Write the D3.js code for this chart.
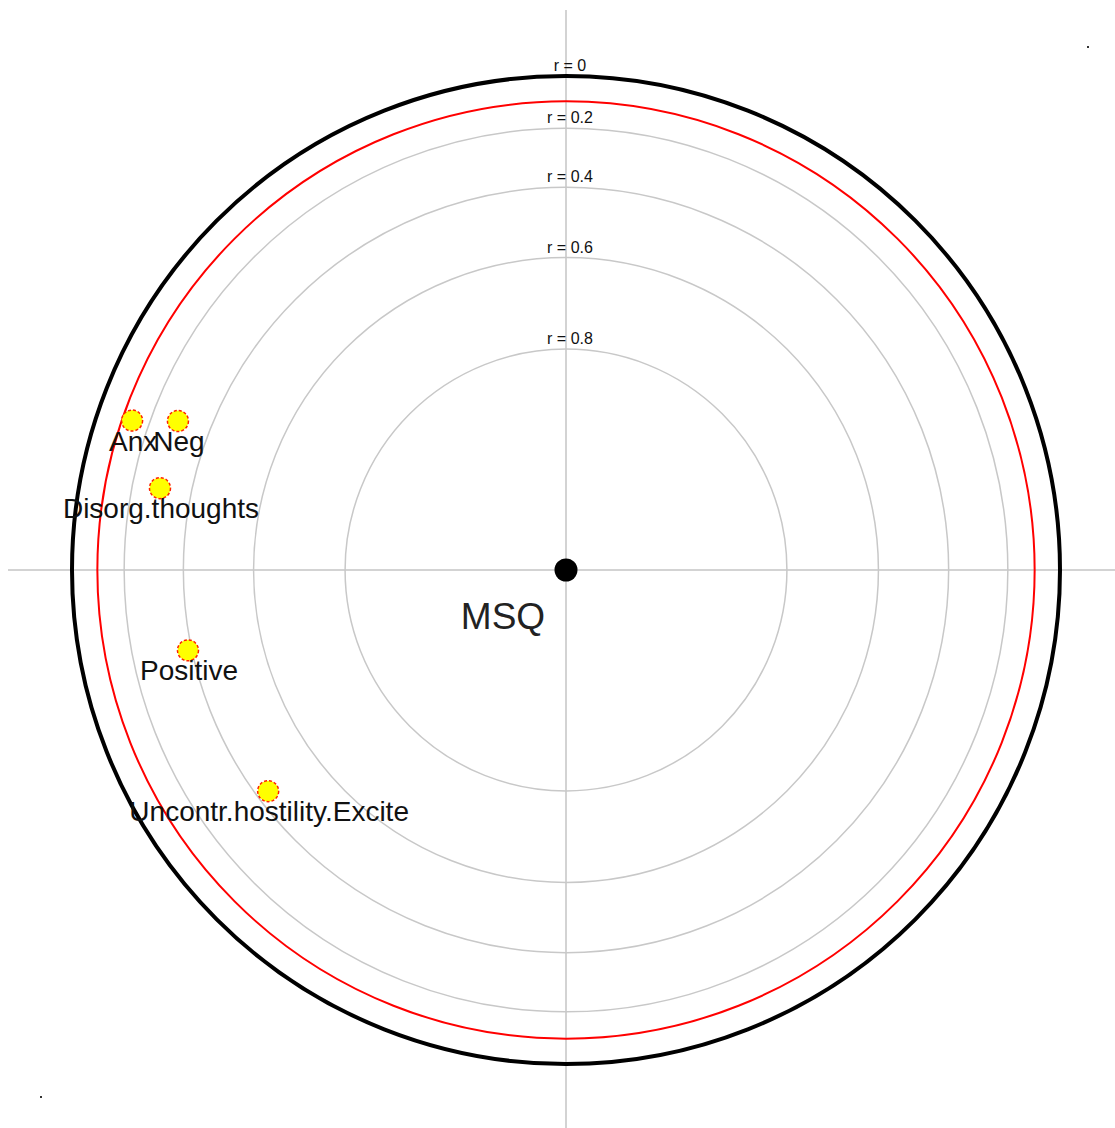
<!DOCTYPE html>
<html><head><meta charset="utf-8">
<script src="https://cdn.jsdelivr.net/npm/d3@7"></script>
<style>body{margin:0;background:#fff}svg{display:block}</style>
</head><body>
<script>
// data
const names = ["Anx", "Neg", "Disorg.thoughts", "Positive", "Uncontr.hostility.Excite"];
const corrs = [0.137, 0.292, 0.297, 0.388, 0.436];
const angles = [161.0, 159.0, 168.6, 192.0, 216.6]; // degrees, counter-clockwise from +x
const ringValues = [0.2, 0.4, 0.6, 0.8];
const ringLabels = ["r = 0.2", "r = 0.4", "r = 0.6", "r = 0.8"];
const outerLabel = "r = 0";
const critValue = 0.1;
const centerLabel = "MSQ";

const W = 1115, H = 1128, cx = 566, cy = 570, R = 494;
const svg = d3.select("body").append("svg").attr("width", W).attr("height", H);

// radius scale: distance = R*sqrt(1-r)
const rad = d3.scaleSqrt().domain([0, 1]).range([0, R]);
const dist = r => rad(1 - r);

// axis lines
svg.append("line").attr("x1", 8).attr("x2", W).attr("y1", cy).attr("y2", cy)
  .attr("stroke", "#c4c4c4").attr("stroke-width", 1.5);
svg.append("line").attr("x1", cx).attr("x2", cx).attr("y1", 10).attr("y2", H)
  .attr("stroke", "#c4c4c4").attr("stroke-width", 1.5);

// rings
svg.selectAll("circle.ring").data(ringValues).enter().append("circle")
  .attr("class", "ring").attr("cx", cx).attr("cy", cy).attr("r", d => dist(d))
  .attr("fill", "none").attr("stroke", "#c8c8c8").attr("stroke-width", 1.5);
svg.append("circle").attr("cx", cx).attr("cy", cy).attr("r", dist(critValue))
  .attr("fill", "none").attr("stroke", "#ff0000").attr("stroke-width", 2);
svg.append("circle").attr("cx", cx).attr("cy", cy).attr("r", dist(0))
  .attr("fill", "none").attr("stroke", "#000").attr("stroke-width", 4);

// ring labels
const rl = [outerLabel].concat(ringLabels);
const rv = [0].concat(ringValues);
svg.selectAll("text.rl").data(rv).enter().append("text").attr("class", "rl")
  .attr("x", cx + 4).attr("y", d => cy - dist(d) - 5)
  .attr("text-anchor", "middle").attr("font-family", "Liberation Sans, Arial, sans-serif")
  .attr("font-size", 16).attr("fill", "#111")
  .text((d, i) => rl[i]);

// center
svg.append("circle").attr("cx", cx).attr("cy", cy).attr("r", 11.5).attr("fill", "#000");
svg.append("text").attr("x", cx - 63).attr("y", cy + 59).attr("text-anchor", "middle")
  .attr("font-family", "Liberation Sans, Arial, sans-serif").attr("font-size", 37)
  .attr("fill", "#222").text(centerLabel);

// points
const pts = names.map((n, i) => {
  const d = dist(corrs[i]), a = angles[i] * Math.PI / 180;
  return {name: n, x: cx + d * Math.cos(a), y: cy - d * Math.sin(a)};
});
svg.selectAll("circle.pt").data(pts).enter().append("circle").attr("class", "pt")
  .attr("cx", d => d.x).attr("cy", d => d.y).attr("r", 10.5)
  .attr("fill", "#ffff00").attr("stroke", "#ff2000").attr("stroke-width", 1.5)
  .attr("stroke-dasharray", "3,2");
svg.selectAll("text.pl").data(pts).enter().append("text").attr("class", "pl")
  .attr("x", d => d.x + 1).attr("y", d => d.y + 30).attr("text-anchor", "middle")
  .attr("font-family", "Liberation Sans, Arial, sans-serif").attr("font-size", 28)
  .attr("fill", "#111").text(d => d.name);

// stray marks
svg.append("rect").attr("x", 1087).attr("y", 46).attr("width", 2).attr("height", 2).attr("fill", "#333");
svg.append("rect").attr("x", 40).attr("y", 1096).attr("width", 2).attr("height", 2).attr("fill", "#333");
</script>
</body></html>
